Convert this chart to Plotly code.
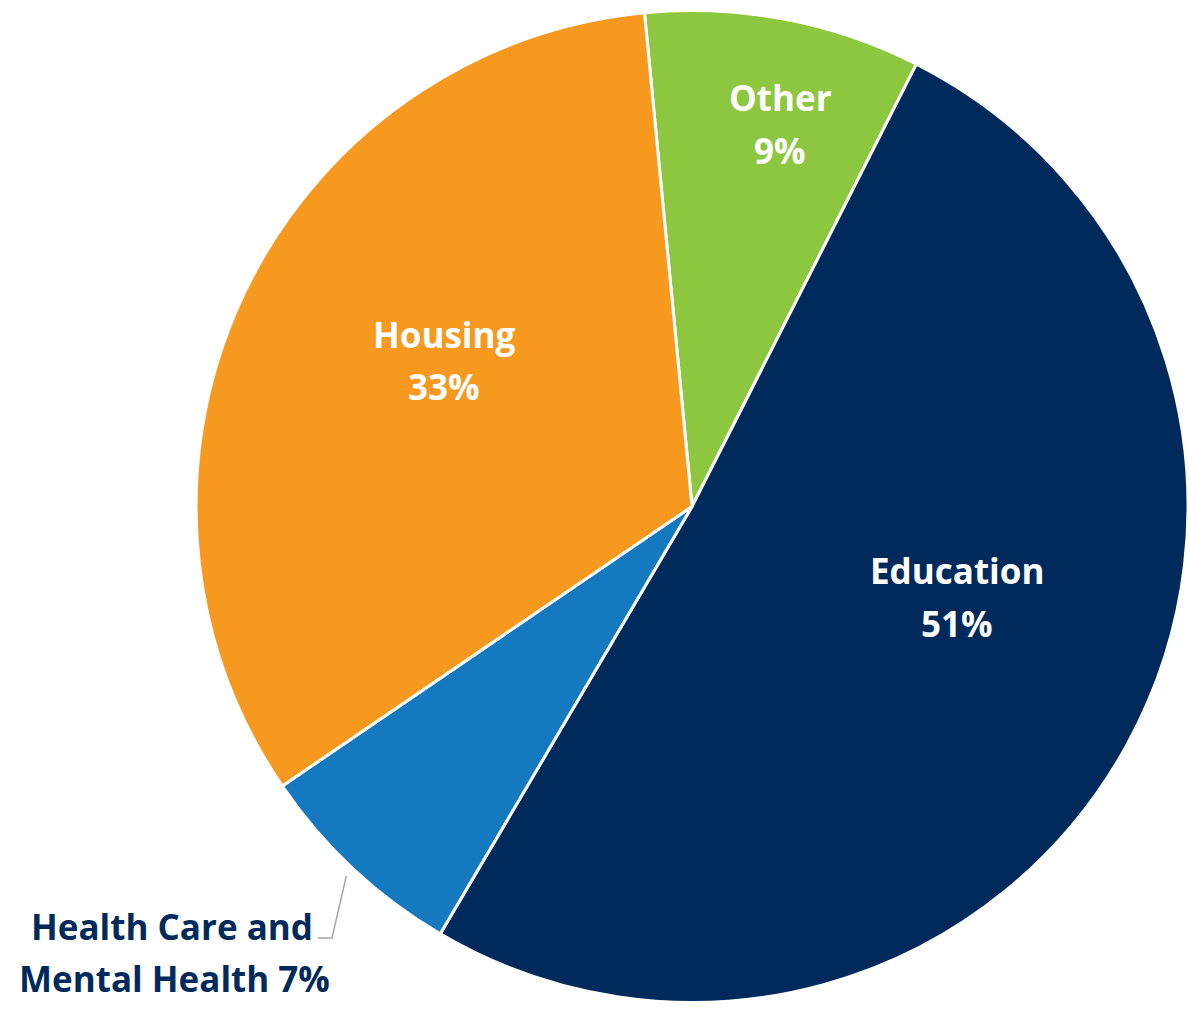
import math
import plotly.graph_objects as go

# ---- data ----
labels = ["Other", "Education", "Health Care and Mental Health", "Housing"]
values = [9, 51, 7, 33]
pct_text = ["9%", "51%", "7%", "33%"]
colors = ["#8DC63F", "#012A5C", "#1479BF", "#F7981F"]

W, H = 1188, 1013
FONT = "Open Sans"
FS = 35
ROTATION = -5.5
DOM_X = [0.165, 1.0]
DOM_Y = [0.0, 1.0]

def px(x):
    return x / W

def py(y):
    return 1 - y / H

fig = go.Figure(go.Pie(
    labels=labels,
    values=values,
    sort=False,
    direction="clockwise",
    rotation=ROTATION,
    marker=dict(colors=colors, line=dict(color="white", width=3)),
    textinfo="none",
    hoverinfo="label+percent",
    showlegend=False,
    domain=dict(x=DOM_X, y=DOM_Y),
))

annotations = []
# inside labels (name line, percent line) at pixel anchor positions
inside_pos = {"Other": (780, 97, 150), "Education": (957, 570, 623), "Housing": (444, 334, 386)}
for lab, pct in zip(labels, pct_text):
    if lab in inside_pos:
        x, y1, y2 = inside_pos[lab]
        for t, yy in ((lab, y1), (pct, y2)):
            annotations.append(dict(x=px(x), y=py(yy), xref="paper", yref="paper", text=f"<b>{t}</b>",
                                    showarrow=False, xanchor="center", yanchor="middle",
                                    font=dict(family=FONT, size=FS, color="white")))

# outside label for Health Care
annotations.append(dict(x=px(172), y=py(926), xref="paper", yref="paper", text="<b>Health Care and</b>",
                        showarrow=False, xanchor="center", yanchor="middle",
                        font=dict(family=FONT, size=FS, color="#012A5C")))
annotations.append(dict(x=px(174), y=py(978), xref="paper", yref="paper", text=f"<b>Mental Health {pct_text[2]}</b>",
                        showarrow=False, xanchor="center", yanchor="middle",
                        font=dict(family=FONT, size=FS, color="#012A5C")))

# leader line to the Health Care slice, from pie geometry
dw = (DOM_X[1] - DOM_X[0]) * W
dh = (DOM_Y[1] - DOM_Y[0]) * H
r = min(dw, dh) / 2
cx = (DOM_X[0] + DOM_X[1]) / 2 * W
cy = (1 - (DOM_Y[0] + DOM_Y[1]) / 2) * H
total = sum(values)
start = ROTATION + 360 * sum(values[:2]) / total
mid = math.radians(start + 360 * values[2] / total / 2)
ex = cx + r * 1.02 * math.sin(mid)
ey = cy - r * 1.02 * math.cos(mid)

shapes = [dict(type="path", xref="paper", yref="paper",
               path=f"M {px(318)},{py(938)} L {px(332)},{py(938)} L {px(ex)},{py(ey)}",
               line=dict(color="#A6A6A6", width=1.5))]

fig.update_layout(
    width=W, height=H,
    margin=dict(l=0, r=0, t=0, b=0),
    paper_bgcolor="white", plot_bgcolor="white",
    annotations=annotations,
    shapes=shapes,
)

fig.write_html("out.html")
